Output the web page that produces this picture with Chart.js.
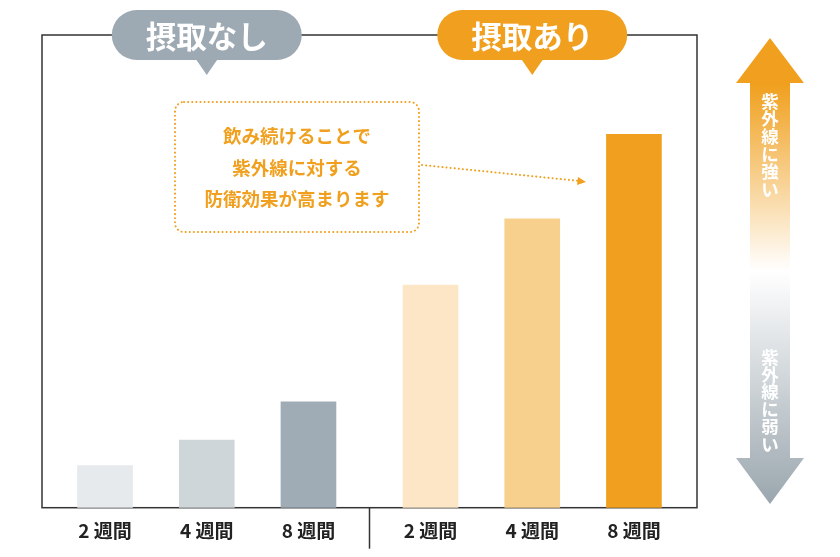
<!DOCTYPE html>
<html>
<head>
<meta charset="utf-8">
<script src="https://cdn.jsdelivr.net/npm/chart.js@4"></script>
<style>
  body { margin: 0; background: #fff; }
  #wrap { width: 840px; height: 557px; }
</style>
</head>
<body>
<div id="wrap"><canvas id="chart" width="840" height="557"></canvas></div>
<script>
// categories and values (arbitrary units)
const tickLabels = ["2 週間", "4 週間", "8 週間", "2 週間", "4 週間", "8 週間"];
const xPositions = [1, 2, 3, 4.2, 5.2, 6.2];
const protectValues = [8.9, 14.3, 22.4, 47.1, 61.1, 79.0];
const barColors = ["#e6eaed", "#cfd6da", "#a0acb5", "#fce6c6", "#f7d08e", "#f0a01e"];
const groupLabels = ["摂取なし", "摂取あり"];
const noteLines = ["飲み続けることで", "紫外線に対する", "防衛効果が高まります"];
const arrowTop = "紫外線に強い";
const arrowBottom = "紫外線に弱い";

const ORANGE = "#f0a01e";
const GRAY = "#9eaab3";
const FONT = '"Noto Sans CJK JP", "Noto Sans", sans-serif';

function roundRect(ctx, x, y, w, h, r) {
    ctx.beginPath();
    ctx.moveTo(x + r, y);
    ctx.lineTo(x + w - r, y);
    ctx.arcTo(x + w, y, x + w, y + r, r);
    ctx.lineTo(x + w, y + h - r);
    ctx.arcTo(x + w, y + h, x + w - r, y + h, r);
    ctx.lineTo(x + r, y + h);
    ctx.arcTo(x, y + h, x, y + h - r, r);
    ctx.lineTo(x, y + r);
    ctx.arcTo(x, y, x + r, y, r);
    ctx.closePath();
}

function bubble(ctx, cx, label, color) {
    let w = 190, h = 50, top = 10;
    ctx.fillStyle = color;
    roundRect(ctx, cx - w / 2, top, w, h, h / 2);
    ctx.fill();
    ctx.beginPath();
    ctx.moveTo(cx - 11, top + h - 1);
    ctx.lineTo(cx + 11, top + h - 1);
    ctx.lineTo(cx, top + h + 15);
    ctx.closePath();
    ctx.fill();
    ctx.fillStyle = "#fff";
    ctx.font = "bold 30.5px " + FONT;
    ctx.textAlign = "center";
    ctx.textBaseline = "middle";
    ctx.fillText(label, cx, top + h / 2 + 1);
}

const boxPlugin = {
    id: "box",
    beforeDatasetsDraw(chart) {
        let ctx = chart.ctx, a = chart.chartArea;
        let sx = chart.scales.x.getPixelForValue(3.6);
        ctx.save();
        ctx.strokeStyle = "#333";
        ctx.lineWidth = 1.5;
        ctx.strokeRect(a.left, a.top, a.right - a.left, a.bottom - a.top);
        ctx.beginPath();
        ctx.moveTo(sx, a.bottom);
        ctx.lineTo(sx, a.bottom + 41);
        ctx.stroke();
        ctx.restore();
    },
    afterDraw(chart) {
        let ctx = chart.ctx, x = chart.scales.x;
        ctx.save();
        bubble(ctx, x.getPixelForValue(2), groupLabels[0], GRAY);
        bubble(ctx, x.getPixelForValue(5.2), groupLabels[1], ORANGE);

        // dotted note box
        ctx.strokeStyle = ORANGE;
        ctx.lineWidth = 2;
        ctx.setLineDash([0.1, 4]);
        ctx.lineCap = "round";
        roundRect(ctx, 175, 102, 244, 130, 9);
        ctx.stroke();
        ctx.beginPath();
        ctx.moveTo(422, 165);
        ctx.lineTo(580, 181);
        ctx.stroke();
        ctx.setLineDash([]);
        ctx.fillStyle = ORANGE;
        ctx.beginPath();
        ctx.moveTo(586, 182);
        ctx.lineTo(578, 177);
        ctx.lineTo(577, 185);
        ctx.closePath();
        ctx.fill();
        ctx.font = "bold 18.5px " + FONT;
        ctx.textAlign = "center";
        ctx.textBaseline = "middle";
        noteLines.forEach((t, i) => ctx.fillText(t, 297, 136 + i * 31.5));

        // double arrow on the right
        let g = ctx.createLinearGradient(0, 38, 0, 504);
        g.addColorStop(0, ORANGE);
        g.addColorStop(0.1, ORANGE);
        g.addColorStop(0.5, "#ffffff");
        g.addColorStop(1, "#9aa6ae");
        ctx.fillStyle = g;
        ctx.beginPath();
        ctx.moveTo(770, 38);
        ctx.lineTo(804, 83);
        ctx.lineTo(790, 83);
        ctx.lineTo(790, 458);
        ctx.lineTo(804, 458);
        ctx.lineTo(770, 504);
        ctx.lineTo(736, 458);
        ctx.lineTo(750, 458);
        ctx.lineTo(750, 83);
        ctx.lineTo(736, 83);
        ctx.closePath();
        ctx.fill();
        ctx.fillStyle = "#fff";
        ctx.font = "bold 17.5px " + FONT;
        [...arrowTop].forEach((c, i) => ctx.fillText(c, 770, 101 + i * 17.7));
        [...arrowBottom].forEach((c, i) => ctx.fillText(c, 770, 357 + i * 17.4));
        ctx.restore();
    }
};

new Chart(document.getElementById("chart"), {
    type: "bar",
    data: {
        datasets: [{
            data: xPositions.map((x, i) => ({ x: x, y: protectValues[i] })),
            backgroundColor: barColors,
            borderWidth: 0,
            barThickness: 55
        }]
    },
    options: {
        responsive: false,
        animation: false,
        events: [],
        layout: { padding: { left: 42, right: 143, top: 35, bottom: 10.5 } },
        plugins: { legend: { display: false }, tooltip: { enabled: false } },
        scales: {
            x: {
                type: "linear",
                min: 0.38,
                max: 6.82,
                offset: false,
                grid: { display: false, offset: false },
                border: { display: false },
                afterBuildTicks(axis) {
                    axis.ticks = xPositions.map(v => ({ value: v }));
                },
                ticks: {
                    autoSkip: false,
                    maxRotation: 0,
                    padding: 4,
                    color: "#222",
                    font: { family: FONT, size: 19, weight: "bold" },
                    callback: (v, i) => tickLabels[i]
                }
            },
            y: { display: false, min: 0, max: 100 }
        }
    },
    plugins: [boxPlugin]
});
</script>
</body>
</html>
